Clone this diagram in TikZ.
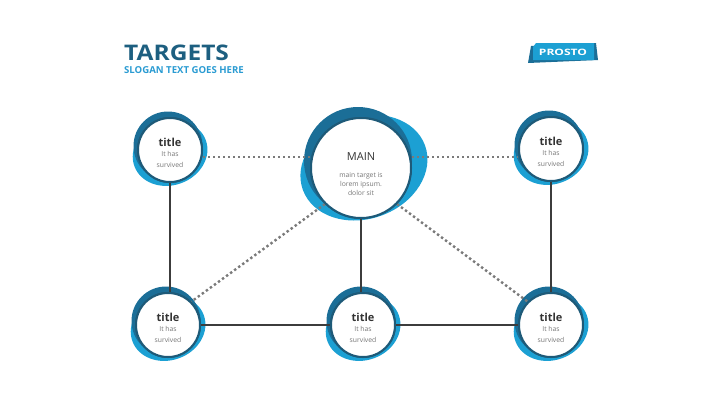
\documentclass[tikz,border=0pt]{standalone}
\usepackage{graphicx}
\usepackage{fontspec}
\setmainfont{Open Sans}
\definecolor{darkblue}{HTML}{1B6E97}
\definecolor{lightblue}{HTML}{1CA0D3}
\definecolor{ringc}{HTML}{1E5A78}
\definecolor{headc}{HTML}{1D5F80}
\definecolor{slogc}{HTML}{2A9BD2}
\definecolor{linec}{HTML}{3C3C3C}
\definecolor{dotc}{HTML}{7A7A7A}
\definecolor{txtc}{HTML}{333333}
\definecolor{subc}{HTML}{777777}
\tikzset{
  small/.style={circle,fill=white,draw=ringc,line width=2pt,minimum size=64pt,inner sep=0pt},
  big/.style={circle,fill=white,draw=ringc,line width=2pt,minimum size=100pt,inner sep=0pt},
  solidline/.style={draw=linec,line width=2.6pt},
  dotline/.style={draw=dotc,line width=2.4pt,dash pattern=on 2.4pt off 2.6pt},
  ttl/.style={font=\bfseries\fontsize{11}{12}\selectfont,text=txtc},
  sub/.style={font=\fontsize{6.8}{11}\selectfont,text=subc,align=center},
}
\newcommand{\blob}[2]{%
  \fill[lightblue,rotate around={20:(#1,#2)}] (#1-1,#2+3) ellipse [x radius=38,y radius=32];
  \fill[darkblue] (#1-2,#2-4) circle [radius=34.5];
}
\begin{document}
\begin{tikzpicture}[x=1pt,y=-1pt]
\useasboundingbox (0,0) rectangle (720,405);
% header
\node[anchor=west,inner sep=0pt,text=headc,font=\bfseries\fontsize{21.5}{24}\selectfont] (hd) at (124,53) {\scalebox{1.14}[1]{TARGETS}};
\node[anchor=west,inner sep=0pt,text=slogc,font=\bfseries\fontsize{9.6}{11}\selectfont] (sl) at (124,70) {SLOGAN TEXT GOES HERE};
% badge
\fill[darkblue] (531,46) -- (596,43) -- (598,60) -- (528,63) -- cycle;
\fill[lightblue] (536,43) -- (594,43) -- (594,60) -- (533,60) -- (533,47) -- cycle;
\node[text=white,font=\bfseries\fontsize{8.8}{9}\selectfont,inner sep=0pt] (pr) at (563,52) {\scalebox{1.37}[1]{PROSTO}};
% blobs
\blob{170}{150}
\blob{551}{149}
\blob{168}{325}
\blob{363}{325}
\blob{551}{325}
\fill[lightblue,rotate around={20:(363,168)}] (364,168) ellipse [x radius=65,y radius=51];
\fill[darkblue] (358,161) circle [radius=54];
% circles
\node[small] (tl) at (170,150) {};
\node[small] (tr) at (551,149) {};
\node[small] (bl) at (168,325) {};
\node[small] (bm) at (363,325) {};
\node[small] (br) at (551,325) {};
\node[big] (mn) at (361,168) {};
% connectors
\draw[solidline] (tl) -- (tl |- bl);
\draw[solidline] (tr) -- (br);
\draw[solidline] (mn) -- (mn |- bm);
\draw[solidline] (bl) -- (bm);
\draw[solidline] (bm) -- (br);
\draw[dotline] (tl.east |- 0,157) -- (mn.west |- 0,157);
\draw[dotline] (mn.east |- 0,157) -- (tr.west |- 0,157);
\draw[dotline] (mn.225) -- (bl.45);
\draw[dotline] (mn.315) -- (br.135);
% redraw circles over connectors
\foreach \n in {tl,tr,bl,bm,br}{\node[small] at (\n) {};}
\node[big] at (mn) {};
% texts
\foreach \n in {tl,tr,bl,bm,br}{
  \node[ttl] (\n t) at ([yshift=8pt]\n) {title};
  \node[sub] (\n s) at ([yshift=-9pt]\n) {It has\\survived};
}
\node[font=\fontsize{11}{12}\selectfont,text=txtc] (mt) at (361,157) {MAIN};
\node[sub,font=\fontsize{6.8}{9.2}\selectfont] (ms) at (361,184) {main target is\\lorem ipsum.\\dolor sit};
\end{tikzpicture}
\end{document}
